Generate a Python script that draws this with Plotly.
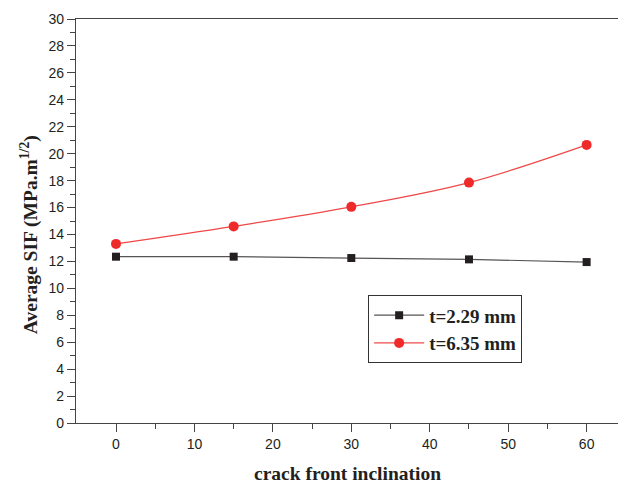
import plotly.graph_objects as go

x_vals = [0, 15, 30, 45, 60]
t229 = [12.35, 12.35, 12.25, 12.15, 11.95]
t635 = [13.3, 14.6, 16.05, 17.85, 20.65]
series_names = ["t=2.29 mm", "t=6.35 mm"]
x_title = "crack front inclination"
y_title = "Average SIF (MPa.m<sup>1/2</sup>)"

title_font = dict(family="Liberation Serif", size=19.5, color="#231f20", weight="bold")
tick_font = dict(family="Liberation Sans", size=14, color="#231f20")

fig = go.Figure()
fig.add_trace(go.Scatter(
    x=x_vals, y=t229, name=series_names[0], mode="lines+markers",
    line=dict(color="#555555", width=1.2),
    marker=dict(symbol="square", size=8, color="#231f20"),
))
fig.add_trace(go.Scatter(
    x=x_vals, y=t635, name=series_names[1], mode="lines+markers",
    line=dict(color="#f04848", width=1.2, shape="spline"),
    marker=dict(symbol="circle", size=10, color="#ee2a2a"),
))

fig.update_layout(
    width=618, height=484,
    margin=dict(l=76, r=0, t=19, b=61, autoexpand=False),
    paper_bgcolor="white", plot_bgcolor="white",
    showlegend=True,
    legend=dict(
        x=0.539, y=0.316, xanchor="left", yanchor="top",
        bordercolor="#333333", borderwidth=1, bgcolor="white",
        font=dict(family="Liberation Serif", size=19, color="#231f20", weight="bold"),
        tracegroupgap=0, itemwidth=50,
    ),
    xaxis=dict(
        range=[-5.1, 64.0], showgrid=False, zeroline=False, automargin=False,
        showline=True, linecolor="#444444", linewidth=1.2, mirror=True,
        ticks="outside", ticklen=8, tickcolor="#444444", tickwidth=1.2,
        tickvals=[0, 10, 20, 30, 40, 50, 60],
        minor=dict(ticks="outside", ticklen=5, tickvals=[5, 15, 25, 35, 45, 55], tickcolor="#444444"),
        tickfont=tick_font,
    ),
    yaxis=dict(
        range=[0, 30], showgrid=False, zeroline=False, automargin=False,
        showline=True, linecolor="#444444", linewidth=1.2,
        ticks="outside", ticklen=8, tickcolor="#444444", tickwidth=1.2,
        dtick=2, tick0=0,
        minor=dict(ticks="outside", ticklen=5, dtick=1, tickcolor="#444444"),
        tickfont=tick_font,
    ),
    annotations=[
        dict(text=x_title, xref="paper", yref="paper", x=0.5, y=0, yshift=-50,
             xanchor="center", yanchor="middle", showarrow=False, font=title_font),
        dict(text=y_title, xref="paper", yref="paper", x=0, y=0.465, xshift=-47,
             xanchor="center", yanchor="middle", textangle=-90, showarrow=False, font=title_font),
    ],
)

fig.write_html("out.html", config={"displayModeBar": False},
               post_script="document.body.style.margin='0px';document.body.style.overflow='hidden';")
